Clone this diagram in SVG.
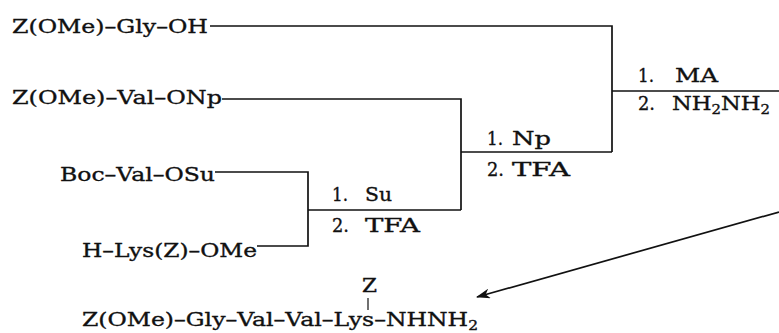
<svg xmlns="http://www.w3.org/2000/svg" width="779" height="333" viewBox="0 0 779 333">
<style>
text{font-family:"DejaVu Serif","Liberation Serif",serif;font-size:19px;fill:#111;stroke:#111;stroke-width:0.35}
.sub{font-size:12.5px}
.ln{fill:none;stroke:#111;stroke-width:1.7}
</style>
<defs>
<marker id="ah" markerWidth="14" markerHeight="10" refX="13" refY="5" orient="auto" markerUnits="userSpaceOnUse">
<path d="M0,0 L14,5 L0,10 L4,5 z" fill="#111"/>
</marker>
</defs>
<rect width="779" height="333" fill="#fff"/>
<g id="connectors">
<path class="ln" d="M210,26 H612 V152"/>
<path class="ln" d="M222,99 H461 V210"/>
<path class="ln" d="M461,152 H612"/>
<path class="ln" d="M215,172 H308 V246 H257"/>
<path class="ln" d="M308,210 H461"/>
<path class="ln" d="M612,91 H779"/>
<path class="ln" d="M779,212 L477,297" marker-end="url(#ah)"/>
</g>
<g id="n1"><text x="12" y="33" textLength="196" lengthAdjust="spacingAndGlyphs">Z(OMe)–Gly–OH</text></g>
<g id="n2"><text x="12" y="104" textLength="210" lengthAdjust="spacingAndGlyphs">Z(OMe)–Val–ONp</text></g>
<g id="n3"><text x="60" y="181" textLength="155" lengthAdjust="spacingAndGlyphs">Boc–Val–OSu</text></g>
<g id="n4"><text x="82" y="257" textLength="175" lengthAdjust="spacingAndGlyphs">H–Lys(Z)–OMe</text></g>
<g id="r1">
<text x="332" y="201" textLength="16" lengthAdjust="spacingAndGlyphs">1.</text>
<text x="365" y="201" textLength="27" lengthAdjust="spacingAndGlyphs">Su</text>
<text x="332" y="232" textLength="17" lengthAdjust="spacingAndGlyphs">2.</text>
<text x="365" y="232" textLength="55" lengthAdjust="spacingAndGlyphs">TFA</text>
</g>
<g id="r2">
<text x="487" y="145" textLength="16" lengthAdjust="spacingAndGlyphs">1.</text>
<text x="512" y="145" textLength="39" lengthAdjust="spacingAndGlyphs">Np</text>
<text x="487" y="176" textLength="17" lengthAdjust="spacingAndGlyphs">2.</text>
<text x="512" y="176" textLength="58" lengthAdjust="spacingAndGlyphs">TFA</text>
</g>
<g id="r3">
<text x="638" y="82" textLength="16" lengthAdjust="spacingAndGlyphs">1.</text>
<text x="675" y="82" textLength="43" lengthAdjust="spacingAndGlyphs">MA</text>
<text x="638" y="110" textLength="17" lengthAdjust="spacingAndGlyphs">2.</text>
<text x="672" y="110" textLength="98" lengthAdjust="spacingAndGlyphs">NH<tspan class="sub" dy="4">2</tspan><tspan dy="-4">NH</tspan><tspan class="sub" dy="4">2</tspan></text>
</g>
<g id="product">
<text x="362" y="292" textLength="15" lengthAdjust="spacingAndGlyphs">Z</text>
<path d="M368,298 V310" stroke="#111" stroke-width="1.2"/>
<text x="82" y="326" textLength="396" lengthAdjust="spacingAndGlyphs">Z(OMe)–Gly–Val–Val–Lys–NHNH<tspan class="sub" dy="4">2</tspan></text>
</g>
</svg>
